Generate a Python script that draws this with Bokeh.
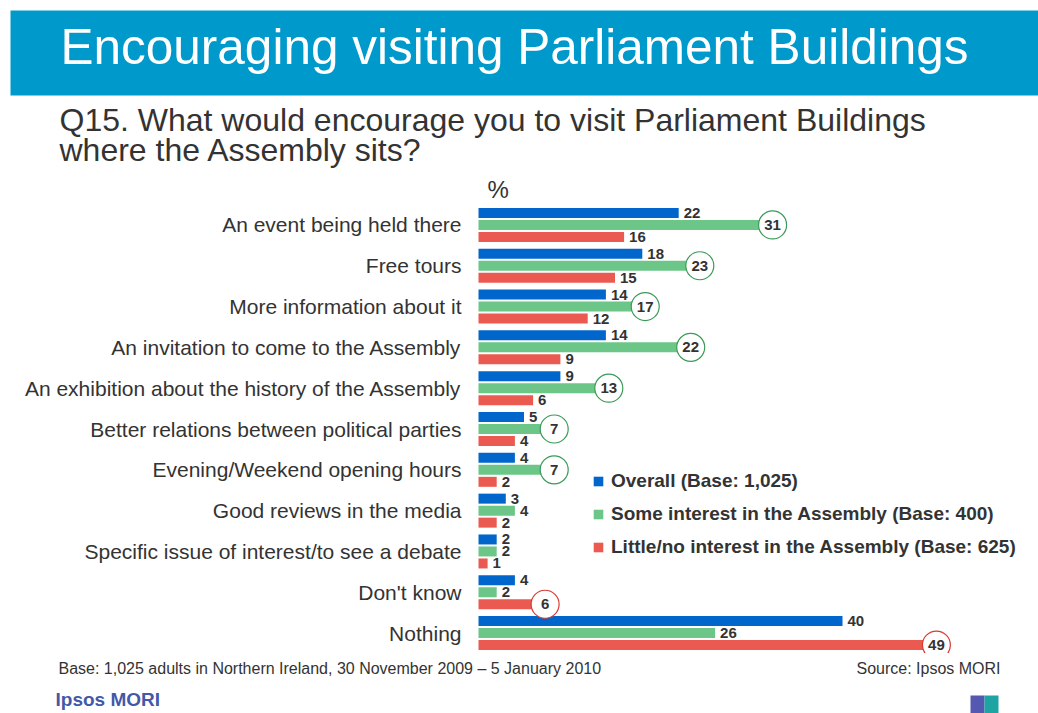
from bokeh.plotting import figure
from bokeh.layouts import column
from bokeh.models import (ColumnDataSource, FactorRange, Range1d, Legend, LegendItem)
from bokeh.transform import dodge
from bokeh.core.properties import value
from bokeh.embed import file_html
from bokeh.resources import INLINE

# ---------------- data ----------------
categories = [
    "An event being held there",
    "Free tours",
    "More information about it",
    "An invitation to come to the Assembly",
    "An exhibition about the history of the Assembly",
    "Better relations between political parties",
    "Evening/Weekend opening hours",
    "Good reviews in the media",
    "Specific issue of interest/to see a debate",
    "Don't know",
    "Nothing",
]
overall = [22, 18, 14, 14, 9, 5, 4, 3, 2, 4, 40]
some_interest = [31, 23, 17, 22, 13, 7, 7, 4, 2, 2, 26]
little_interest = [16, 15, 12, 9, 6, 4, 2, 2, 1, 6, 49]
circled = ["some"] * 7 + [None, None, "little", "little"]

series_names = ["Overall (Base: 1,025)",
                "Some interest in the Assembly (Base: 400)",
                "Little/no interest in the Assembly (Base: 625)"]

title_text = "Encouraging visiting Parliament Buildings"
question_lines = ["Q15. What would encourage you to visit Parliament Buildings",
                  "where the Assembly sits?"]
unit_text = "%"
base_note = "Base: 1,025 adults in Northern Ireland, 30 November 2009 \u2013 5 January 2010"
source_note = "Source: Ipsos MORI"
brand = "Ipsos MORI"

BLUE, GREEN, RED = "#0066cc", "#6cc687", "#eb5a50"
TXT = "#333333"
FONT = "Liberation Sans"

W, H = 1038, 713
LEFT, TOP, BOTTOM = 478, 204, 653
PX_PER_UNIT = 9.1


def bare_figure(height, x_range, y_range):
    f = figure(width=W, height=height, x_range=x_range, y_range=y_range,
               output_backend="svg", toolbar_location=None,
               x_axis_location=None, y_axis_location=None, min_border=0)
    f.grid.visible = False
    f.outline_line_color = None
    return f


# ---------------- header (page pixel coordinates) ----------------
hdr = bare_figure(TOP, Range1d(0, W), Range1d(TOP, 0))
hdr.quad(left=[10], right=[W], top=[10], bottom=[95], fill_color="#0099cc", line_color=None)
hdr.text(x=[60], y=[46], text=[title_text], text_color="white", text_font=value(FONT),
         text_font_size="49.5px", text_baseline="middle")
hdr.text(x=[59, 59], y=[119, 149], text=question_lines, text_color=TXT, text_font=value(FONT),
         text_font_size="32px", text_baseline="middle")
hdr.text(x=[487], y=[189], text=[unit_text], text_color=TXT, text_font=value(FONT),
         text_font_size="24px", text_baseline="middle")

# ---------------- main chart ----------------
p = bare_figure(BOTTOM - TOP,
                Range1d(-LEFT / PX_PER_UNIT, (W - LEFT) / PX_PER_UNIT),
                FactorRange(factors=list(reversed(categories))))

src = ColumnDataSource(dict(cat=categories, overall=overall, some=some_interest, little=little_interest))

# category labels, placed through the categorical scale
p.text(x=-17 / PX_PER_UNIT, y="cat", text="cat", source=src, text_align="right",
       text_baseline="middle", text_font=value(FONT), text_font_size="21px", text_color=TXT)

GROUP_PX = (BOTTOM - TOP) / len(categories)
OFF = 12 / GROUP_PX
BH = 10 / GROUP_PX
specs = [("overall", OFF, BLUE), ("some", 0.0, GREEN), ("little", -OFF, RED)]
vals = {"overall": overall, "some": some_interest, "little": little_interest}
renderers = []
for key, off, col in specs:
    r = p.hbar(y=dodge("cat", off, range=p.y_range), right=key, left=0, height=BH,
               source=src, fill_color=col, line_color=None)
    renderers.append(r)

# value labels (plain and circled)
CIRC_DX = 12 / PX_PER_UNIT
for key, off, col in specs:
    px_, py_, pt_ = [], [], []
    cx_, cy_, ct_, cl_ = [], [], [], []
    for i, c in enumerate(categories):
        v = vals[key][i]
        if circled[i] == key:
            cx_.append(v + CIRC_DX); cy_.append(c); ct_.append(str(v))
            cl_.append("#3a9a58" if key == "some" else "#d83a30")
        else:
            px_.append(v); py_.append(c); pt_.append(str(v))
    s = ColumnDataSource(dict(x=px_, y=py_, t=pt_))
    p.text(x="x", y=dodge("y", off, range=p.y_range), text="t", source=s, x_offset=5,
           text_baseline="middle", text_align="left", text_font=value(FONT),
           text_font_style="bold", text_font_size="15px", text_color=TXT)
    if cx_:
        sc = ColumnDataSource(dict(x=cx_, y=cy_, t=ct_, lc=cl_))
        p.scatter(x="x", y=dodge("y", off, range=p.y_range), source=sc, size=28, marker="circle",
                  fill_color="white", line_color="lc", line_width=1.2)
        p.text(x="x", y=dodge("y", off, range=p.y_range), text="t", source=sc,
               text_baseline="middle", text_align="center", text_font=value(FONT),
               text_font_style="bold", text_font_size="15px", text_color=TXT)

legend = Legend(items=[LegendItem(label=n, renderers=[r]) for n, r in zip(series_names, renderers)],
                location=(LEFT + 114, 95), orientation="vertical", padding=0, margin=0, spacing=11,
                glyph_width=12, glyph_height=12, label_standoff=7,
                label_text_font=FONT, label_text_font_size="19px", label_text_font_style="bold",
                label_text_color=TXT, border_line_alpha=0, background_fill_alpha=0)
p.add_layout(legend)

# ---------------- footer (page pixel coordinates) ----------------
ftr = bare_figure(H - BOTTOM, Range1d(0, W), Range1d(H, BOTTOM))
ftr.text(x=[58], y=[668], text=[base_note], text_color=TXT, text_font=value(FONT),
         text_font_size="16px", text_baseline="middle")
ftr.text(x=[1000], y=[668], text=[source_note], text_color=TXT, text_font=value(FONT),
         text_font_size="16px", text_baseline="middle", text_align="right")
ftr.text(x=[55], y=[699], text=[brand], text_color="#4358a8", text_font=value(FONT),
         text_font_size="19px", text_font_style="bold", text_baseline="middle")
ftr.quad(left=[970], right=[984], top=[695], bottom=[H], fill_color="#5558b0", line_color=None)
ftr.quad(left=[984], right=[998], top=[695], bottom=[H], fill_color="#1fa4a4", line_color=None)

layout = column(hdr, p, ftr, spacing=0)
open("out.html", "w").write(file_html(layout, INLINE))
